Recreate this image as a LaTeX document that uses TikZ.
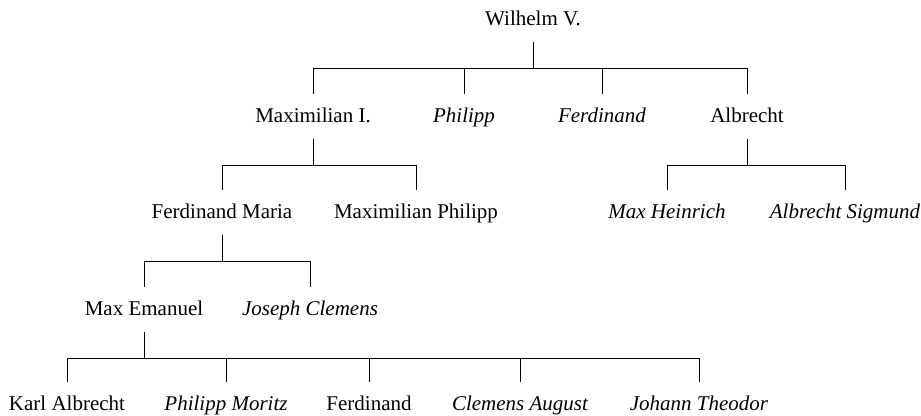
\documentclass[tikz,border=0pt]{standalone}
\usepackage{fontspec}
\setmainfont{Liberation Serif}
\begin{document}
\begin{tikzpicture}[x=1pt,y=-1pt,
  person/.style={font=\fontsize{21}{25}\selectfont, text height=16pt, text depth=5pt,
    inner xsep=0pt, inner ysep=12pt, anchor=base},
  ital/.style={person, font=\fontsize{21}{25}\selectfont\itshape},
  link/.style={draw=black, line width=1pt}]
\useasboundingbox (0,0) rectangle (921,415);
% level 1
\node[person] (W) at (533,25) {Wilhelm V.};
% level 2
\node[person] (M1) at (313,122) {Maximilian I.};
\node[ital]   (Ph) at (464,122) {Philipp};
\node[ital]   (Fe) at (602,122) {Ferdinand};
\node[person] (Al) at (747,122) {Albrecht};
% level 3
\node[person] (FM) at (222,218) {Ferdinand Maria};
\node[person] (MP) at (416,218) {Maximilian Philipp};
\node[ital]   (MH) at (667,218) {Max Heinrich};
\node[ital]   (AS) at (845,218) {Albrecht Sigmund};
% level 4
\node[person] (ME) at (144,315) {Max Emanuel};
\node[ital]   (JC) at (310,315) {Joseph Clemens};
% level 5
\node[person] (KA) at (67,410) {Karl Albrecht};
\node[ital]   (PM) at (226,410) {Philipp Moritz};
\node[person] (F2) at (369,410) {Ferdinand};
\node[ital]   (CA) at (520,410) {Clemens August};
\node[ital]   (JT) at (699,410) {Johann Theodor};
% connectors
\foreach \p/\c in {W/M1,W/Ph,W/Fe,W/Al,M1/FM,M1/MP,Al/MH,Al/AS,FM/ME,FM/JC,ME/KA,ME/PM,ME/F2,ME/CA,ME/JT}
  \draw[link] (\p.south) -- ++(0,26) -| (\c.north);
\end{tikzpicture}
\end{document}
